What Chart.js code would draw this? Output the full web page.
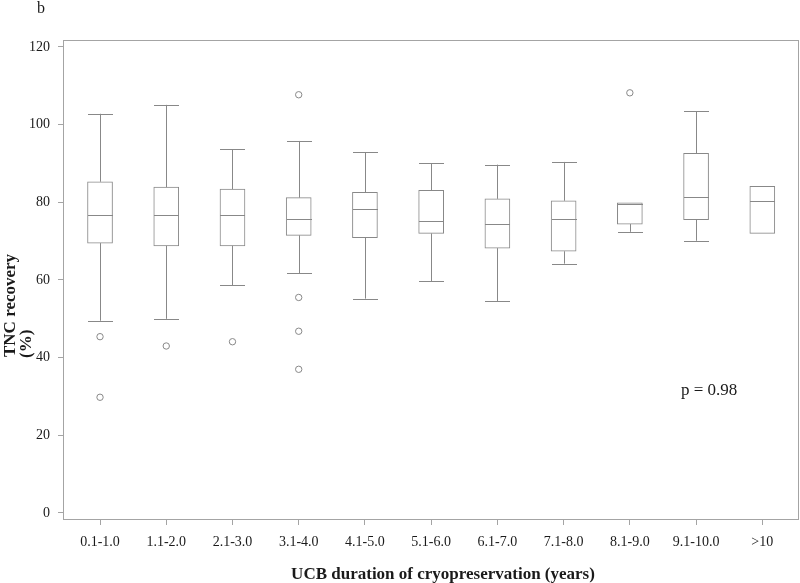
<!DOCTYPE html>
<html>
<head>
<meta charset="utf-8">
<script src="https://cdn.jsdelivr.net/npm/chart.js@4.4.1/dist/chart.umd.min.js"></script>
<style>
  html, body { margin: 0; padding: 0; background: #fff; }
  #wrap { width: 800px; height: 583px; position: relative; }
</style>
</head>
<body>
<div id="wrap"><canvas id="chart"></canvas></div>
<script>
'use strict';

/* ── DATA ── */
const groups      = ['0.1-1.0', '1.1-2.0', '2.1-3.0', '3.1-4.0', '4.1-5.0', '5.1-6.0',
                     '6.1-7.0', '7.1-8.0', '8.1-9.0', '9.1-10.0', '>10'];
const whiskerLow  = [49.5, 50.0, 58.6, 61.7, 55.2, 59.7, 54.6, 64.2, 72.4, 70.1, null];
const q1          = [69.5, 68.8, 68.8, 71.5, 70.9, 72.0, 68.2, 67.4, 74.4, 75.5, 72.0];
const median      = [76.8, 76.7, 76.7, 75.7, 78.2, 75.2, 74.4, 75.7, 79.6, 81.4, 80.3];
const q3          = [85.3, 83.9, 83.4, 81.2, 82.6, 83.1, 80.9, 80.4, 79.9, 92.6, 84.1];
const whiskerHigh = [102.8, 105.1, 93.7, 95.8, 92.9, 90.1, 89.7, 90.4, null, 103.4, null];
const outlierGroup = [0, 0, 1, 2, 3, 3, 3, 3, 8];
const outlierValue = [45.4, 29.8, 43.0, 44.1, 107.7, 55.5, 46.8, 37.0, 108.2];
const yTicks      = [0, 20, 40, 60, 80, 100, 120];

/* ── STYLE ── */
const LINE  = '#888888';
const FRAME = '#a4a4a4';
const TEXT  = '#1a1a1a';
const SERIF = "'Liberation Serif', 'Times New Roman', serif";
const BOX_W = 25;

/* ── whiskers, medians, frame and free text ── */
const boxExtras = {
  id: 'boxExtras',
  afterDatasetsDraw(chart) {
    const { ctx, scales: { x, y }, chartArea: a } = chart;
    ctx.save();
    ctx.strokeStyle = LINE;
    ctx.lineWidth = 1;
    const hline = (cx, v) => {
      const py = Math.round(y.getPixelForValue(v)) + 0.5;
      ctx.beginPath();
      ctx.moveTo(cx - BOX_W / 2, py);
      ctx.lineTo(cx + BOX_W / 2, py);
      ctx.stroke();
    };
    const vline = (cx, v0, v1) => {
      ctx.beginPath();
      ctx.moveTo(cx, y.getPixelForValue(v0));
      ctx.lineTo(cx, y.getPixelForValue(v1));
      ctx.stroke();
    };
    groups.forEach((g, i) => {
      const cx = Math.round(x.getPixelForValue(i)) + 0.5;
      hline(cx, median[i]);
      if (whiskerHigh[i] != null) { vline(cx, q3[i], whiskerHigh[i]); hline(cx, whiskerHigh[i]); }
      if (whiskerLow[i] != null)  { vline(cx, q1[i], whiskerLow[i]);  hline(cx, whiskerLow[i]); }
    });

    // plot frame
    ctx.strokeStyle = FRAME;
    ctx.strokeRect(Math.round(a.left) + 0.5, Math.round(a.top) + 0.5,
                   Math.round(a.right - a.left) - 1, Math.round(a.bottom - a.top));

    // texts
    ctx.fillStyle = TEXT;
    ctx.textBaseline = 'alphabetic';
    ctx.textAlign = 'left';
    ctx.font = '16px ' + SERIF;
    ctx.fillText('b', 37, 13);
    ctx.font = '17px ' + SERIF;
    ctx.fillText('p = 0.98', 681, 395);

    ctx.font = 'bold 17px ' + SERIF;
    ctx.textAlign = 'center';
    ctx.fillText('UCB duration of cryopreservation (years)', 443, 579);

    ctx.textAlign = 'left';
    ctx.save();
    ctx.translate(15, 357);
    ctx.rotate(-Math.PI / 2);
    ctx.fillText('TNC recovery', 0, 0);
    ctx.restore();
    ctx.save();
    ctx.translate(31, 358);
    ctx.rotate(-Math.PI / 2);
    ctx.fillText('(%)', 0, 0);
    ctx.restore();
    ctx.restore();
  }
};

const boxData = groups.map((g, i) => ({ x: i, y: [q1[i], q3[i]] }));
const outData = outlierGroup.map((gi, k) => ({ x: gi, y: outlierValue[k] }));

new Chart(document.getElementById('chart'), {
  type: 'bar',
  data: {
    datasets: [
      {
        label: 'IQR',
        data: boxData,
        backgroundColor: '#ffffff',
        borderColor: LINE,
        borderWidth: 1,
        borderSkipped: false,
        barThickness: BOX_W
      },
      {
        type: 'scatter',
        label: 'Outliers',
        data: outData,
        pointStyle: 'circle',
        pointRadius: 3.2,
        pointBackgroundColor: '#ffffff',
        pointBorderColor: LINE,
        pointBorderWidth: 1
      }
    ]
  },
  options: {
    responsive: true,
    maintainAspectRatio: false,
    animation: false,
    layout: { autoPadding: false, padding: { left: 0, top: 40, right: 1, bottom: 0 } },
    plugins: {
      legend: { display: false },
      tooltip: { enabled: false },
      title: { display: false }
    },
    scales: {
      x: {
        type: 'linear',
        min: -0.559,
        max: 10.554,
        offset: false,
        afterFit: s => { s.height = 64; },
        grid: { offset: false, drawOnChartArea: false, drawTicks: true, tickLength: 6, color: FRAME },
        border: { display: false },
        ticks: {
          stepSize: 1,
          includeBounds: false,
          autoSkip: false,
          maxRotation: 0,
          padding: 9,
          color: TEXT,
          font: { family: SERIF, size: 14 },
          callback: v => groups[v] ?? ''
        }
      },
      y: {
        min: -1.55,
        max: 121.8,
        afterFit: s => { s.width = 63; },
        afterBuildTicks: s => { s.ticks = yTicks.map(v => ({ value: v })); },
        grid: { drawOnChartArea: false, drawTicks: true, tickLength: 5, color: FRAME },
        border: { display: false },
        ticks: {
          padding: 8,
          color: TEXT,
          font: { family: SERIF, size: 14 }
        }
      }
    }
  },
  plugins: [boxExtras]
});
</script>
</body>
</html>
